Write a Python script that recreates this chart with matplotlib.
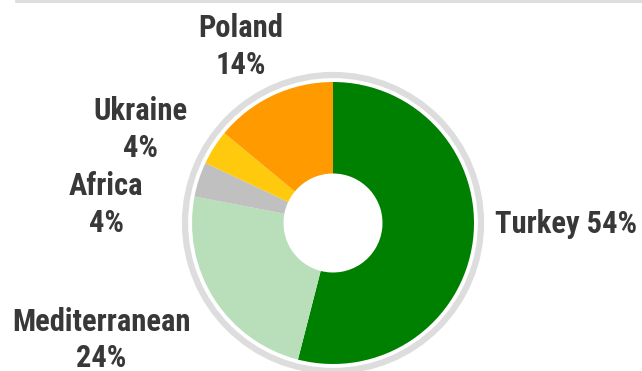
import matplotlib
matplotlib.use("Agg")
import matplotlib.pyplot as plt
from matplotlib.patches import Circle

regions = ["Turkey", "Mediterranean", "Africa", "Ukraine", "Poland"]
shares = [54, 24, 4, 4, 14]
colors = ["#008000", "#b9dfba", "#c0c0c0", "#ffc90e", "#ff9a00"]

# label anchors in pixels from the top-left: x, baseline of name, baseline of value
label_pos = [(495, 233, None), (101, 331, 367), (106, 195, 232),
             (140, 120, 157), (241, 37, 74)]

W, H = 642, 371
fig = plt.figure(figsize=(W / 100, H / 100), dpi=100)
ax = fig.add_axes([0, 0, 1, 1])

cx, cy, r = 333, H - 223, 141

# thin rule along the top
ax.plot([16, W], [H - 1, H - 1], color="#dcdcdc", lw=2)

# gray ring round the donut
ax.add_patch(Circle((cx, cy), 148, fill=False, ec="#dddddd", lw=4.5))

ax.pie(shares, colors=colors, startangle=90, counterclock=False,
       center=(cx, cy), radius=r, frame=True,
       wedgeprops=dict(width=r - 49.5, linewidth=0))

style = dict(fontsize=22, fontweight="bold", color="#383838",
             family=["Roboto Condensed", "DejaVu Sans"], va="baseline")
for name, val, (x, y1, y2) in zip(regions, shares, label_pos):
    if y2 is None:
        ax.text(x, H - y1, f"{name} {val}%", ha="left", **style)
    else:
        ax.text(x, H - y1, name, ha="center", **style)
        ax.text(x, H - y2, f"{val}%", ha="center", **style)

ax.set_xlim(0, W)
ax.set_ylim(0, H)
ax.set_aspect("equal")
ax.axis("off")
fig.savefig("out.png", dpi=100)
